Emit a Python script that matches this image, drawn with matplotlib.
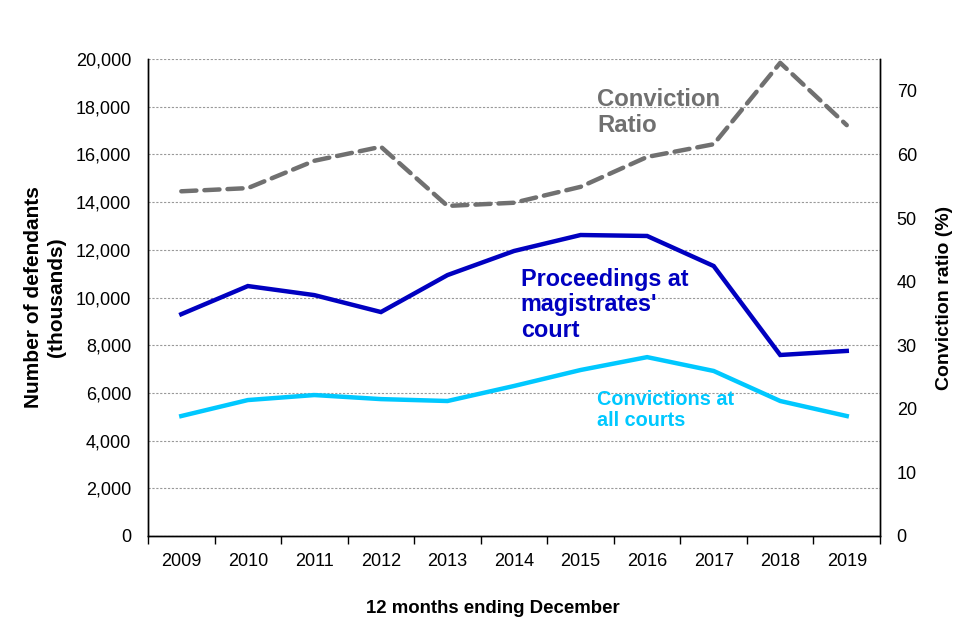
import matplotlib
matplotlib.use("Agg")
import matplotlib.pyplot as plt
import numpy as np

plt.rcParams['font.family'] = ['Liberation Sans', 'DejaVu Sans']

years = ['2009', '2010', '2011', '2012', '2013', '2014', '2015', '2016', '2017', '2018', '2019']
proceedings = [9300, 10480, 10100, 9390, 10940, 11950, 12620, 12580, 11320, 7590, 7760]
convictions = [5030, 5700, 5910, 5740, 5660, 6290, 6960, 7500, 6920, 5660, 5030]
conviction_ratio = [54.2, 54.7, 59.0, 61.2, 51.9, 52.4, 54.9, 59.6, 61.6, 74.4, 64.6]

fig = plt.figure(figsize=(9.6, 6.4), dpi=100)
ax = fig.add_axes([0.1542, 0.1625, 0.7625, 0.7453])
ax2 = ax.twinx()

x = np.arange(len(years))

# gridlines on left axis
ax.set_ylim(0, 20000)
ax.set_yticks(np.arange(0, 20001, 2000))
ax.set_yticklabels([f"{v:,}" for v in range(0, 20001, 2000)], fontsize=13)
ax.yaxis.grid(True, linestyle=(0, (2, 1.5)), color='#999999', linewidth=0.8)
ax.set_axisbelow(True)

ax.plot(x, proceedings, color='#0000C0', linewidth=3.2, solid_joinstyle='miter', zorder=3)
ax.plot(x, convictions, color='#00C8FF', linewidth=3.2, solid_joinstyle='miter', zorder=3)

ax2.set_ylim(0, 75)
ax2.set_yticks(np.arange(0, 71, 10))
ax2.tick_params(axis='y', labelsize=13, length=0, pad=12)
ax2.plot(x, conviction_ratio, color='#707070', linewidth=3.2, linestyle=(0, (3.4, 1.8)),
         dash_capstyle='round', zorder=3)

ax.set_xlim(-0.5, len(years) - 0.5)
ax.set_xticks(x)
ax.set_xticklabels(years, fontsize=13)
ax.set_xticks(np.arange(-0.5, len(years), 1), minor=True)
ax.tick_params(axis='x', which='major', length=0, pad=12)
ax.tick_params(axis='x', which='minor', length=6, width=1, direction='out')
ax.tick_params(axis='y', length=0, pad=12)

for a in (ax, ax2):
    a.spines['top'].set_visible(False)
    for s in ('left', 'right', 'bottom'):
        a.spines[s].set_linewidth(1.0)
        a.spines[s].set_color('black')

ax.set_xlabel('12 months ending December', fontsize=13.4, fontweight='bold')
ax.xaxis.set_label_coords(0.471, -0.135)
ax.set_ylabel('Number of defendants\n(thousands)', fontsize=15, fontweight='bold', linespacing=1.25)
ax.yaxis.set_label_coords(-0.112, 0.5)
ax2.set_ylabel('Conviction ratio (%)', fontsize=14, fontweight='bold')
ax2.yaxis.set_label_coords(1.077, 0.5)

ax.text(6.25, 17760, 'Conviction\nRatio', color='#707070', fontsize=17.2, fontweight='bold',
        ha='left', va='center', linespacing=1.14)
ax.text(5.1, 9690, "Proceedings at\nmagistrates'\ncourt", color='#0000C0', fontsize=16.8,
        fontweight='bold', ha='left', va='center', linespacing=1.14)
ax.text(6.25, 5280, 'Convictions at\nall courts', color='#00C8FF', fontsize=14.3,
        fontweight='bold', ha='left', va='center', linespacing=1.13)

fig.savefig('out.png', dpi=100)
